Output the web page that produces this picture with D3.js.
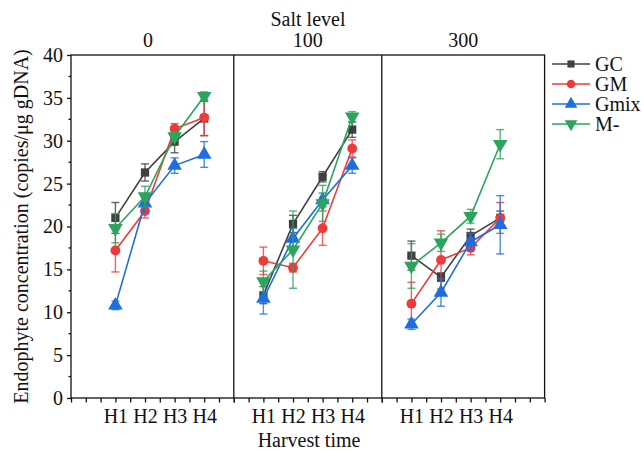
<!DOCTYPE html>
<html><head><meta charset="utf-8">
<script src="https://cdn.jsdelivr.net/npm/d3@7"></script>
<style>body{margin:0;background:#fff}svg{display:block}text{font-family:"Liberation Serif","Times New Roman",serif;fill:#111}</style>
</head><body><svg id="c" width="644" height="453"></svg>
<script>
// ---- data ----
const categories = ["H1","H2","H3","H4"];
const saltLevels = ["0","100","300"];
const seriesNames = ["GC","GM","Gmix","M-"];
// means per salt level (rows: 0, 100, 300)
const GC   = [[21.0,26.3,29.9,32.6],[12.0,20.3,25.8,31.3],[16.6,14.1,18.9,21.0]];
const GM   = [[17.2,21.8,31.4,32.7],[16.0,15.2,19.8,29.1],[11.0,16.1,17.5,21.0]];
const Gmix = [[10.8,22.7,27.1,28.4],[11.6,18.6,23.1,27.1],[8.6,12.3,18.2,20.2]];
const Mneg = [[19.8,23.5,30.5,35.2],[13.6,17.3,22.7,32.8],[15.4,18.1,21.2,29.6]];
// error values
const GCerr   = [[1.8,1.0,1.3,2.0],[1.0,1.0,0.6,0.9],[1.7,0.5,0.8,0.8]];
const GMerr   = [[2.5,0.8,0.6,2.1],[1.6,0.5,2.0,1.0],[2.5,3.4,0.8,1.8]];
const Gmixerr = [[0.5,1.0,0.9,1.5],[1.8,1.2,0.8,0.9],[0.6,1.6,1.0,3.4]];
const Mnegerr = [[1.7,1.2,0.5,0.5],[1.2,4.5,2.1,0.6],[2.6,1.0,0.8,1.7]];
const yTicks = [0,5,10,15,20,25,30,35,40];

// ---- styles / layout ----
const colors = ["#404040","#EE3A3A","#1F6EE0","#2BA55E"];
const symbols = [d3.symbolSquare, d3.symbolCircle, d3.symbolTriangle, d3.symbolTriangle];
const symSize = [68, 76, 92, 92];
const symRot = [0,0,0,180];
const means = [GC, GM, Gmix, Mneg];
const errs = [GCerr, GMerr, Gmixerr, Mnegerr];

const svg = d3.select("#c");
const yTop = 55, yBottom = 398;
const y = d3.scaleLinear().domain([0,40]).range([yBottom, yTop]);
const unit = 29.6;
const panelDomains = [[-0.5,5],[0,5],[0,5.5]];
let x0 = 71;
const panels = panelDomains.map(d => {
  const w = (d[1]-d[0])*unit;
  const p = {d, r:[x0, x0+w]};
  x0 += w;
  return p;
});
const xRight = panels[2].r[1];

// y axis
const yAxis = d3.axisLeft(y).tickValues(yTicks).tickSize(4).tickPadding(4).tickFormat(d3.format("d"));
const ga = svg.append("g").attr("transform",`translate(${panels[0].r[0]},0)`).call(yAxis);
ga.select(".domain").remove();
ga.selectAll("text").style("font-size","20px").attr("fill","#111");
ga.selectAll("line").attr("stroke","#111").attr("stroke-width",1.3);
const minorY = d3.range(2.5,40,5);
svg.append("g").selectAll("line").data(minorY).join("line")
  .attr("x1",panels[0].r[0]-2.5).attr("x2",panels[0].r[0])
  .attr("y1",d=>y(d)).attr("y2",d=>y(d)).attr("stroke","#111").attr("stroke-width",1.3);

panels.forEach((p,pi) => {
  const x = d3.scaleLinear().domain(p.d).range(p.r);
  const tv = d3.range(Math.ceil(p.d[0]*2)/2, p.d[1]+0.001, 0.5);
  const ax = d3.axisBottom(x).tickValues(tv).tickSize(4.5).tickPadding(6)
    .tickFormat(v => (Number.isInteger(v) && v>=1 && v<=4) ? categories[v-1] : "");
  const g = svg.append("g").attr("transform",`translate(0,${yBottom})`).call(ax);
  g.select(".domain").remove();
  g.selectAll("text").style("font-size","20px").attr("fill","#111");
  g.selectAll("line").attr("stroke","#111").attr("stroke-width",1.3);

  // panel title
  svg.append("text").attr("x", pi===0 ? 148 : (p.r[0]+p.r[1])/2).attr("y",47)
    .attr("text-anchor","middle").style("font-size","20px").text(saltLevels[pi]);

  // series
  means.forEach((m,si) => {
    const vals = m[pi].map((v,i)=>({x:i+1, v, e:errs[si][pi][i]}));
    const c = colors[si];
    const gs = svg.append("g");
    // error bars
    vals.forEach(d => {
      const cx = x(d.x);
      gs.append("line").attr("x1",cx).attr("x2",cx).attr("y1",y(d.v-d.e)).attr("y2",y(d.v+d.e))
        .attr("stroke",c).attr("stroke-width",1.4).attr("stroke-opacity",0.8);
      [d.v-d.e,d.v+d.e].forEach(e => gs.append("line").attr("x1",cx-4).attr("x2",cx+4)
        .attr("y1",y(e)).attr("y2",y(e)).attr("stroke",c).attr("stroke-width",1.4).attr("stroke-opacity",0.8));
    });
    gs.append("path").datum(vals)
      .attr("d", d3.line().x(d=>x(d.x)).y(d=>y(d.v)))
      .attr("fill","none").attr("stroke",c).attr("stroke-width",1.6);
    gs.selectAll("path.m").data(vals).join("path").attr("class","m")
      .attr("d", d3.symbol().type(symbols[si]).size(symSize[si]))
      .attr("transform", d=>`translate(${x(d.x)},${y(d.v)}) rotate(${symRot[si]})`)
      .attr("fill",c);
  });
});

// frame & dividers
const frame = svg.append("g").attr("stroke","#111").attr("stroke-width",1.3).attr("fill","none");
frame.append("rect").attr("x",panels[0].r[0]).attr("y",yTop).attr("width",xRight-panels[0].r[0]).attr("height",yBottom-yTop);
[panels[1].r[0], panels[2].r[0]].forEach(xx => frame.append("line").attr("x1",xx).attr("x2",xx).attr("y1",yTop).attr("y2",yBottom));

// titles
svg.append("text").attr("x",308).attr("y",26).attr("text-anchor","middle").style("font-size","20px").text("Salt level");
svg.append("text").attr("x",309).attr("y",447).attr("text-anchor","middle").style("font-size","20px").text("Harvest time");
svg.append("text").attr("transform",`translate(28,${(yTop+yBottom)/2}) rotate(-90)`).attr("text-anchor","middle")
  .style("font-size","20px").text("Endophyte concentration (copies/μg gDNA)");

// legend
const lg = svg.append("g");
seriesNames.forEach((n,i) => {
  const ly = 64 + i*20;
  lg.append("line").attr("x1",552).attr("x2",590).attr("y1",ly).attr("y2",ly).attr("stroke",colors[i]).attr("stroke-width",1.6);
  lg.append("path").attr("d", d3.symbol().type(symbols[i]).size(symSize[i]*0.75))
    .attr("transform",`translate(571,${ly}) rotate(${symRot[i]})`).attr("fill",colors[i]);
  lg.append("text").attr("x",595).attr("y",ly+7).style("font-size","20px").text(n);
});
</script></body></html>
